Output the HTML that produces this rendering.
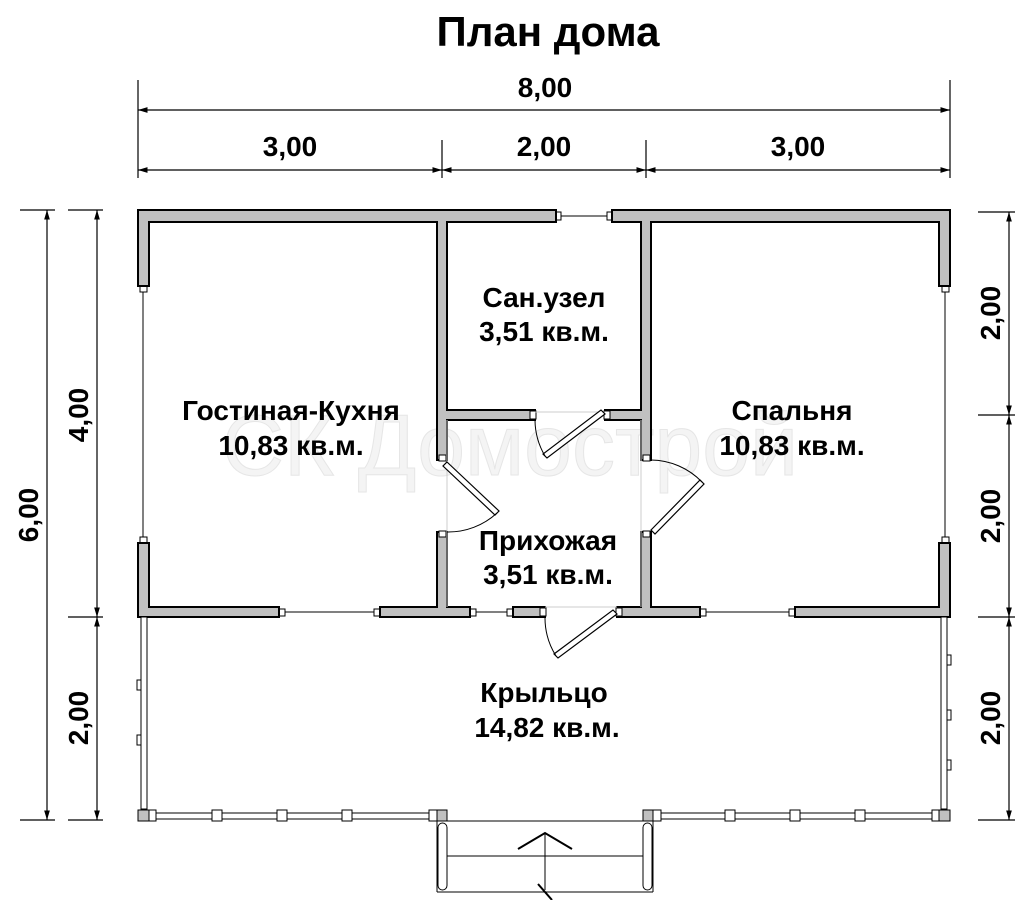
<!DOCTYPE html>
<html><head><meta charset="utf-8"><style>
html,body{margin:0;padding:0;background:#fff;}
svg{display:block;}
text{font-family:"Liberation Sans",sans-serif;font-weight:bold;fill:#000;}
</style></head><body>
<svg width="1020" height="900" viewBox="0 0 1020 900" xmlns="http://www.w3.org/2000/svg">
<defs>
<marker id="a" viewBox="0 0 10 10" refX="10" refY="5" markerWidth="8" markerHeight="8" orient="auto-start-reverse"><path d="M0,2 L10,5 L0,8 z" fill="#000"/></marker>
</defs>
<text x="548" y="46" font-size="42" text-anchor="middle">План дома</text>
<text x="510" y="475" font-size="86" text-anchor="middle" style="fill:#f4f4f4;stroke:#e6e6e6;stroke-width:1;font-weight:normal">СК Домострой</text>

<!-- dimensions -->
<g stroke="#000" stroke-width="1.2" fill="none">
<line x1="138" y1="80" x2="138" y2="178"/><line x1="950" y1="80" x2="950" y2="178"/>
<line x1="442" y1="140" x2="442" y2="178"/><line x1="646" y1="140" x2="646" y2="178"/>
<line x1="138" y1="110" x2="950" y2="110" marker-start="url(#a)" marker-end="url(#a)"/>
<line x1="138" y1="170" x2="442" y2="170" marker-start="url(#a)" marker-end="url(#a)"/>
<line x1="442" y1="170" x2="646" y2="170" marker-start="url(#a)" marker-end="url(#a)"/>
<line x1="646" y1="170" x2="950" y2="170" marker-start="url(#a)" marker-end="url(#a)"/>
<line x1="20" y1="210" x2="55" y2="210"/><line x1="20" y1="820" x2="55" y2="820"/>
<line x1="68" y1="210" x2="103" y2="210"/><line x1="68" y1="617" x2="103" y2="617"/><line x1="68" y1="820" x2="103" y2="820"/>
<line x1="47" y1="210" x2="47" y2="820" marker-start="url(#a)" marker-end="url(#a)"/>
<line x1="97" y1="210" x2="97" y2="617" marker-start="url(#a)" marker-end="url(#a)"/>
<line x1="97" y1="617" x2="97" y2="820" marker-start="url(#a)" marker-end="url(#a)"/>
<line x1="978" y1="212" x2="1015" y2="212"/><line x1="978" y1="415" x2="1015" y2="415"/><line x1="978" y1="617" x2="1015" y2="617"/><line x1="978" y1="820" x2="1015" y2="820"/>
<line x1="1009" y1="212" x2="1009" y2="415" marker-start="url(#a)" marker-end="url(#a)"/>
<line x1="1009" y1="415" x2="1009" y2="617" marker-start="url(#a)" marker-end="url(#a)"/>
<line x1="1009" y1="617" x2="1009" y2="820" marker-start="url(#a)" marker-end="url(#a)"/>
</g>
<g font-size="28" text-anchor="middle">
<text x="545" y="97">8,00</text>
<text x="290" y="156">3,00</text><text x="544" y="156">2,00</text><text x="798" y="156">3,00</text>
<text transform="translate(38,515) rotate(-90)">6,00</text>
<text transform="translate(88,415) rotate(-90)">4,00</text>
<text transform="translate(88,718) rotate(-90)">2,00</text>
<text transform="translate(1000,313) rotate(-90)">2,00</text>
<text transform="translate(1000,516) rotate(-90)">2,00</text>
<text transform="translate(1000,718) rotate(-90)">2,00</text>
</g>

<!-- windows (thin lines) -->
<g stroke="#000" stroke-width="1" fill="#fff">
<line x1="143" y1="292" x2="143" y2="537"/><line x1="945" y1="292" x2="945" y2="537"/>
<line x1="285" y1="612" x2="380" y2="612"/><line x1="470" y1="612" x2="513" y2="612"/>
<line x1="700" y1="612" x2="795" y2="612"/><line x1="560" y1="216" x2="612" y2="216"/>
<rect x="140" y="286" width="7" height="6"/><rect x="140" y="537" width="7" height="6"/>
<rect x="942" y="286" width="7" height="6"/><rect x="942" y="537" width="7" height="6"/>
<rect x="279" y="609" width="6" height="7"/><rect x="374" y="609" width="6" height="7"/>
<rect x="470" y="609" width="6" height="7"/><rect x="507" y="609" width="6" height="7"/>
<rect x="700" y="609" width="6" height="7"/><rect x="789" y="609" width="6" height="7"/>
<rect x="556" y="212" width="5" height="8"/><rect x="607" y="212" width="5" height="8"/>
</g>

<!-- walls -->
<g fill="#c0c0c0" stroke="#000" stroke-width="2">
<rect x="138" y="210" width="418" height="12"/><rect x="612" y="210" width="338" height="12"/>
<rect x="138" y="210" width="11" height="76"/><rect x="138" y="543" width="11" height="74"/>
<rect x="939" y="210" width="11" height="76"/><rect x="939" y="543" width="11" height="74"/>
<rect x="138" y="607" width="141" height="10"/><rect x="380" y="607" width="90" height="10"/>
<rect x="513" y="607" width="32" height="10"/><rect x="617" y="607" width="83" height="10"/>
<rect x="795" y="607" width="155" height="10"/>
<rect x="437" y="210" width="10" height="250"/><rect x="437" y="532" width="10" height="85"/>
<rect x="641" y="210" width="10" height="250"/><rect x="641" y="532" width="10" height="85"/>
<rect x="437" y="410" width="98" height="10"/><rect x="605" y="410" width="46" height="10"/>
</g>
<g fill="#c0c0c0">
<rect x="139" y="211" width="416" height="10"/><rect x="613" y="211" width="336" height="10"/>
<rect x="139" y="211" width="9" height="74"/><rect x="139" y="544" width="9" height="72"/>
<rect x="940" y="211" width="9" height="74"/><rect x="940" y="544" width="9" height="72"/>
<rect x="139" y="608" width="139" height="8"/><rect x="381" y="608" width="88" height="8"/>
<rect x="514" y="608" width="30" height="8"/><rect x="618" y="608" width="81" height="8"/>
<rect x="796" y="608" width="153" height="8"/>
<rect x="438" y="211" width="8" height="248"/><rect x="438" y="533" width="8" height="83"/>
<rect x="642" y="211" width="8" height="248"/><rect x="642" y="533" width="8" height="83"/>
<rect x="438" y="411" width="96" height="8"/><rect x="606" y="411" width="44" height="8"/>
</g>
<g fill="#fff" stroke="#000" stroke-width="1">
<rect x="439" y="455" width="7" height="6"/><rect x="439" y="531" width="7" height="6"/>
<rect x="643" y="455" width="7" height="6"/><rect x="643" y="531" width="7" height="6"/>
<rect x="530" y="411" width="6" height="8"/><rect x="604" y="411" width="6" height="8"/>
<rect x="540" y="608" width="6" height="8"/><rect x="616" y="608" width="6" height="8"/>
</g>
<g stroke="#ccc" stroke-width="1" fill="none">
<line x1="447" y1="420" x2="447" y2="607"/><line x1="641" y1="420" x2="641" y2="607"/>
<line x1="535" y1="412" x2="605" y2="412"/><line x1="545" y1="607" x2="617" y2="607"/>
</g>
<g stroke="#000" stroke-width="1.2" fill="#fff">
<polygon points="447,462 499,511 495,515 443,466"/>
<polygon points="651,530 700,480 704,484 655,534"/>
<polygon points="605,414 547,458 543,454 601,410"/>
<polygon points="617,614 558,658 554,654 613,610"/>
</g>
<g stroke="#000" stroke-width="1" fill="none">
<path d="M497,513 A72,72 0 0 1 447,532"/>
<path d="M702,482 A72,72 0 0 0 651,460"/>
<path d="M535,420 A72,72 0 0 0 545,456"/>
<path d="M545,617 A72,72 0 0 0 556,656"/>
</g>

<!-- porch -->
<g stroke="#000" stroke-width="1" fill="#fff">
<rect x="141" y="617" width="6" height="192"/><rect x="941" y="617" width="6" height="192"/>
<rect x="150" y="813" width="287" height="6"/><rect x="653" y="813" width="287" height="6"/>
<rect x="137" y="680" width="4" height="10"/><rect x="137" y="735" width="4" height="10"/>
<rect x="947" y="655" width="4" height="10"/><rect x="947" y="710" width="4" height="10"/><rect x="947" y="760" width="4" height="10"/>
<rect x="212" y="810" width="10" height="11"/><rect x="277" y="810" width="10" height="11"/><rect x="342" y="810" width="10" height="11"/>
<rect x="725" y="810" width="10" height="11"/><rect x="790" y="810" width="10" height="11"/><rect x="855" y="810" width="10" height="11"/>
<rect x="149" y="810" width="7" height="11"/><rect x="429" y="810" width="8" height="11"/>
<rect x="653" y="810" width="8" height="11"/><rect x="932" y="810" width="7" height="11"/>
</g>
<g fill="#c0c0c0" stroke="#000" stroke-width="1">
<rect x="138" y="810" width="11" height="11"/><rect x="939" y="810" width="11" height="11"/>
<rect x="437" y="810" width="10" height="11"/><rect x="643" y="810" width="10" height="11"/>
</g>
<g stroke="#000" stroke-width="1" fill="none">
<line x1="447" y1="821" x2="643" y2="821"/>
<line x1="437" y1="821" x2="437" y2="892"/><line x1="653" y1="821" x2="653" y2="892"/>
<line x1="437" y1="892" x2="653" y2="892"/>
<line x1="447" y1="856" x2="643" y2="856"/>
<rect x="438" y="823" width="9" height="67" rx="4.5"/><rect x="643" y="823" width="9" height="67" rx="4.5"/>
<line x1="545" y1="833" x2="545" y2="890"/>
</g>
<g stroke="#000" stroke-width="2" fill="none">
<polyline points="518,849 545,833 572,849"/>
<line x1="538" y1="884" x2="552" y2="900"/>
</g>

<g font-size="28" text-anchor="middle">
<text x="544" y="307">Сан.узел</text><text x="544" y="341">3,51 кв.м.</text>
<text x="291" y="420">Гостиная-Кухня</text><text x="291" y="455">10,83 кв.м.</text>
<text x="792" y="420">Спальня</text><text x="792" y="455">10,83 кв.м.</text>
<text x="548" y="550">Прихожая</text><text x="548" y="584">3,51 кв.м.</text>
<text x="544" y="702">Крыльцо</text><text x="547" y="737">14,82 кв.м.</text>
</g>
</svg>
</body></html>
